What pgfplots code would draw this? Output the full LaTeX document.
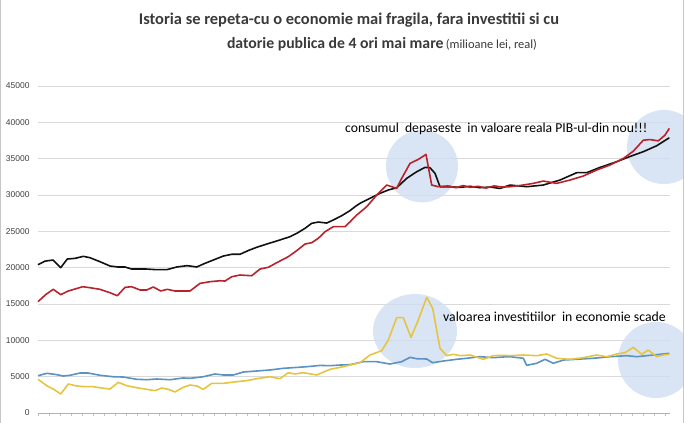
\documentclass[border=0pt]{standalone}
\usepackage{pgfplots}
\pgfplotsset{compat=1.18}
\usepackage{fontspec}
\setmainfont{Carlito}
\newfontfamily\tickfont{Liberation Sans}
\definecolor{cblack}{HTML}{111111}
\definecolor{cred}{HTML}{B8222B}
\definecolor{cblue}{HTML}{5A92C4}
\definecolor{cyellow}{HTML}{E6C440}
\definecolor{cbubble}{HTML}{CFDFF1}
\definecolor{ctitle}{HTML}{3A3A3A}
\begin{document}
\begin{tikzpicture}[x=1bp,y=1bp]
\begin{axis}[
  name=ax,
  at={(38bp,10bp)}, anchor=south west,
  scale only axis, width=632bp, height=327bp,
  xmin=0, xmax=632, ymin=0, ymax=45000,
  axis x line*=bottom, axis y line*=left,
  y axis line style={draw=none},
  x axis line style={draw=gray!60, line width=0.6pt},
  ytick={0,5000,...,45000},
  ytick style={draw=none},
  ymajorgrids, grid style={draw=gray!30, line width=0.6pt},
  yticklabel style={font=\tickfont\fontsize{8.5}{9}\selectfont, text=black!75, xshift=-2bp},
  scaled y ticks=false,
  /pgf/number format/.cd, 1000 sep={}, assume math mode=true,
  /pgfplots/.cd,
  xtick={0,11,...,632}, xticklabels={},
  xtick style={draw=gray!50, line width=0.5pt},
  major tick length=3bp,
  tick align=outside,
  clip=false,
  every axis plot/.append style={line width=1.6pt, line join=round, no marks},
]
% highlight bubbles (annotation)
\fill[cbubble, opacity=0.8] (axis cs:384,33950) ellipse [x radius=36bp, y radius=36bp];
\fill[cbubble, opacity=0.8] (axis cs:626,36600) ellipse [x radius=37bp, y radius=37bp];
\fill[cbubble, opacity=0.8] (axis cs:377,11280) ellipse [x radius=42bp, y radius=37bp];
\fill[cbubble, opacity=0.8] (axis cs:618,7300) ellipse [x radius=38bp, y radius=38bp];

% black (PIB)
\addplot[cblack] coordinates {
(0,20400) (7,20900) (15,21050) (22.7,20000) (29.3,21190) (37,21280) (45.3,21560) (52,21370) (62,20820) (72,20230) (80,20090) (87,20090) (93.7,19810) (108.7,19810) (118.7,19720) (128.7,19720) (138.7,20090) (148.7,20270) (152,20230) (158.7,20090) (167,20600) (175.3,21050) (185.3,21600) (193.7,21840) (202,21840) (210.3,22360) (218.7,22800) (228.7,23250) (238.7,23670) (252,24260) (258.7,24720) (267,25410) (273.7,26100) (280.3,26280) (288.7,26140) (295.3,26560) (303.7,27150) (312,27850) (317,28390) (322,28850) (332,29540) (342,30230) (350.3,30690) (358.7,31000) (368.7,32290) (378.7,33200) (387,33800) (392,33750) (397,32980) (402,31140) (412,31140) (422,31050) (432,31200) (442,31000) (452,31100) (462,30900) (472,31370) (488.7,31140) (505.3,31370) (522,32060) (538.7,33070) (548.7,33070) (562,33800) (578.7,34580) (592,35300) (605.3,35960) (618.7,36780) (631.3,37880)
};
% red (consum)
\addplot[cred] coordinates {
(0,15320) (8,16330) (15.3,17020) (22.7,16290) (30.3,16790) (37,17060) (44.7,17380) (52,17240) (62,17020) (72,16550) (79.3,16140) (87,17290) (93.7,17380) (102,16930) (108.7,16930) (115.3,17340) (122.7,16790) (129.3,17020) (137,16790) (148.7,16790) (152,16790) (162,17840) (172,18070) (182,18200) (187,18160) (193.7,18750) (202,18990) (213.7,18890) (222,19810) (230.3,20050) (238.7,20680) (250.3,21510) (258.7,22340) (267,23250) (273.7,23440) (280.3,24040) (287,24950) (295.3,25640) (307,25640) (312,26300) (318.7,27240) (328.7,28390) (338.7,29990) (348.7,31370) (358.7,30920) (363.7,32290) (372,34350) (380.3,34900) (388,35580) (393.7,31370) (400.3,31140) (410,31250) (418,31000) (425,31300) (432,31050) (440,31200) (448,30950) (456,31250) (464,31100) (472,31140) (485.3,31370) (495.3,31600) (505.3,31920) (518.7,31600) (532,32060) (545.3,32610) (558.7,33440) (572,34120) (585.3,35030) (595.3,36030) (605.3,37540) (612,37630) (620.3,37450) (627,38240) (631.3,39160)
};
% blue
\addplot[cblue] coordinates {
(0,5130) (8.7,5460) (17,5320) (25.3,5090) (32,5190) (42,5500) (50.3,5500) (62,5190) (75.3,4990) (85.3,4950) (98.7,4640) (108.7,4580) (118.7,4680) (132,4580) (145.3,4820) (152,4770) (165.3,4990) (177,5370) (185.3,5230) (195.3,5230) (205.3,5640) (218.7,5780) (232,5920) (245.3,6150) (255.3,6240) (268.7,6370) (282,6550) (292,6510) (302,6600) (312,6650) (325.3,7060) (338.7,7060) (352,6740) (363.7,7060) (372,7660) (378.7,7470) (388.7,7430) (394.7,6920) (405.3,7150) (418.7,7390) (428.7,7530) (442,7750) (455.3,7610) (465.3,7710) (472,7750) (485.3,7530) (488.7,6560) (498.7,6840) (507,7390) (515.3,6840) (525.3,7290) (538.7,7390) (555.3,7530) (572,7750) (588.7,7890) (598.7,7750) (615.3,7980) (631.3,8210)
};
% yellow (investitii)
\addplot[cyellow] coordinates {
(0,4640) (8.7,3760) (15.3,3300) (22.7,2610) (30.3,3990) (38.7,3720) (47,3620) (55.3,3620) (63.7,3440) (72,3300) (80.3,4220) (88.7,3760) (98.7,3480) (107,3300) (117,3070) (123.7,3440) (130.3,3260) (137,2890) (145.3,3540) (152,3850) (158.7,3720) (165.3,3260) (173.7,4080) (185.3,4080) (198.7,4310) (208.7,4450) (218.7,4720) (232,4990) (242,4720) (250.3,5550) (257,5370) (265.3,5550) (278.7,5230) (292,6010) (305.3,6370) (312,6600) (322,6920) (332,7980) (343.7,8570) (350.3,10040) (358.7,13120) (365.3,13120) (373,10410) (380.3,12800) (388.7,15920) (394.7,14400) (402,8900) (408.7,7890) (415.3,8080) (422,7890) (432,7980) (445.3,7390) (455.3,7890) (465.3,7940) (472,7890) (485.3,7980) (498.7,7890) (508.7,8120) (518.7,7530) (532,7390) (545.3,7610) (558.7,7980) (568.7,7750) (578.7,8120) (587,8300) (595.3,9030) (603.7,8080) (610.3,8670) (618.7,7750) (625.3,7980) (631.3,8080)
};
\node[anchor=west, inner sep=0pt, font=\fontsize{13.7}{15}\selectfont] at (axis cs:307,39080) {consumul\ \ depaseste\ \ in valoare reala PIB-ul-din nou!!!};
\node[anchor=west, inner sep=0pt, font=\fontsize{13.8}{15}\selectfont] at (axis cs:405,13210) {valoarea investitiilor\ \ in economie scade};
\end{axis}
\node[text=ctitle, font=\bfseries\fontsize{16.5}{19}\selectfont, inner sep=0pt] at (349bp,403bp) {Istoria se repeta-cu o economie mai fragila, fara investitii si cu};
\node[text=ctitle, inner sep=0pt] at (382bp,379bp) {{\bfseries\fontsize{15.8}{19}\selectfont datorie publica de 4 ori mai mare} {\fontsize{12.5}{14}\selectfont (milioane lei, real)}};
\draw[gray!45, line width=1pt] (0.5bp,0) -- (0.5bp,423bp);
\draw[gray!45, line width=1pt] (683.5bp,0) -- (683.5bp,423bp);
\pgfresetboundingbox
\path[use as bounding box] (0,0) rectangle (684bp,423bp);
\end{tikzpicture}
\end{document}
